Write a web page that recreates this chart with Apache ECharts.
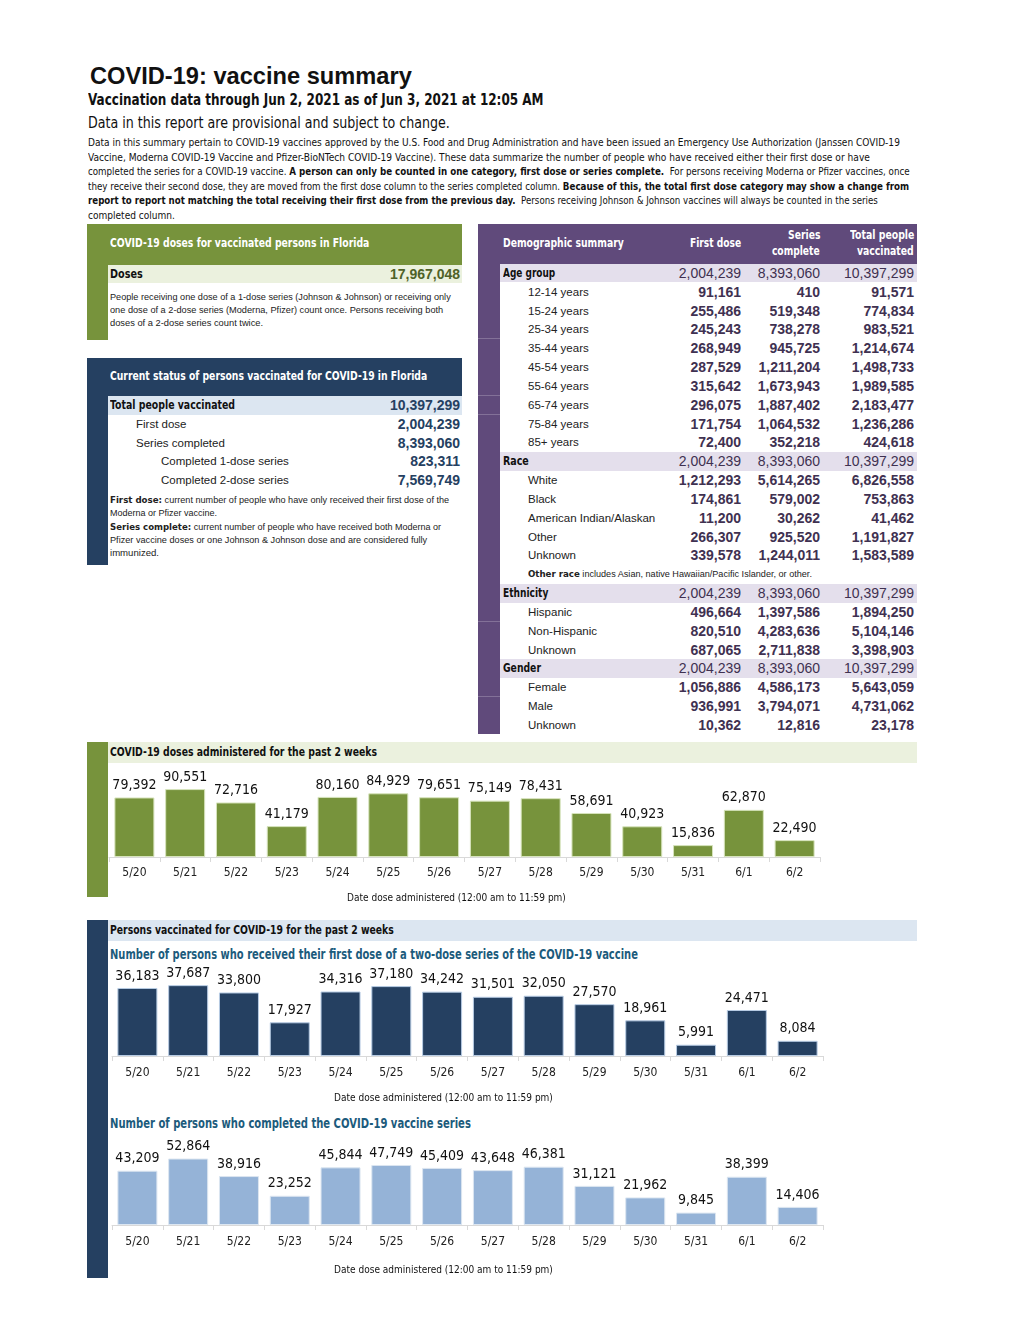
<!DOCTYPE html>
<html><head><meta charset="utf-8">
<script src="https://cdn.jsdelivr.net/npm/echarts@6/dist/echarts.min.js"></script>
<style>
html,body{margin:0;padding:0;background:#fff;}
body{width:1020px;height:1320px;position:relative;overflow:hidden;font-family:"Liberation Sans",Arial,sans-serif;color:#111;}
.a{position:absolute;white-space:nowrap;}
.n{font-family:"Liberation Sans Narrow","Arial Narrow","DejaVu Sans Condensed",sans-serif;}
.n b,.bn{font-family:"Liberation Sans Narrow","Arial Narrow","DejaVu Sans Condensed",sans-serif;font-weight:bold;}
.box{position:absolute;}
#chart{position:absolute;left:0;top:0;width:1020px;height:1320px;z-index:5;pointer-events:none;}
</style></head>
<body>
<div id="page"></div>
<div id="chart"></div>
<script>
// ---------- DATA ----------
const dates = ['5/20','5/21','5/22','5/23','5/24','5/25','5/26','5/27','5/28','5/29','5/30','5/31','6/1','6/2'];
const dosesAdministered = [79392, 90551, 72716, 41179, 80160, 84929, 79651, 75149, 78431, 58691, 40923, 15836, 62870, 22490];
const firstDoseDaily = [36183, 37687, 33800, 17927, 34316, 37180, 34242, 31501, 32050, 27570, 18961, 5991, 24471, 8084];
const seriesCompleteDaily = [43209, 52864, 38916, 23252, 45844, 47749, 45409, 43648, 46381, 31121, 21962, 9845, 38399, 14406];

const totalDoses = 17967048;
const statusLabels = ['Total people vaccinated','First dose','Series completed','Completed 1-dose series','Completed 2-dose series'];
const statusValues = [10397299, 2004239, 8393060, 823311, 7569749];

const groupTotals = [2004239, 8393060, 10397299];
const ageLabels = ['12-14 years','15-24 years','25-34 years','35-44 years','45-54 years','55-64 years','65-74 years','75-84 years','85+ years'];
const ageFirst = [91161, 255486, 245243, 268949, 287529, 315642, 296075, 171754, 72400];
const ageSeries = [410, 519348, 738278, 945725, 1211204, 1673943, 1887402, 1064532, 352218];
const ageTotal = [91571, 774834, 983521, 1214674, 1498733, 1989585, 2183477, 1236286, 424618];
const raceLabels = ['White','Black','American Indian/Alaskan','Other','Unknown'];
const raceFirst = [1212293, 174861, 11200, 266307, 339578];
const raceSeries = [5614265, 579002, 30262, 925520, 1244011];
const raceTotal = [6826558, 753863, 41462, 1191827, 1583589];
const ethLabels = ['Hispanic','Non-Hispanic','Unknown'];
const ethFirst = [496664, 820510, 687065];
const ethSeries = [1397586, 4283636, 2711838];
const ethTotal = [1894250, 5104146, 3398903];
const genderLabels = ['Female','Male','Unknown'];
const genderFirst = [1056886, 936991, 10362];
const genderSeries = [4586173, 3794071, 12816];
const genderTotal = [5643059, 4731062, 23178];

// ---------- PAGE ----------
const page = document.getElementById('page');
const fmt = v => v.toLocaleString('en-US');
function box(x,y,w,h,bg){const d=document.createElement('div');d.className='box';d.style.cssText=`left:${x}px;top:${y}px;width:${w}px;height:${h}px;background:${bg};`;page.appendChild(d);return d;}
function txt(x,cy,html,css,cls,right,w){const h=30;const d=document.createElement('div');d.className='a '+(cls||'');
  d.style.cssText=(right?`right:${1020-x}px;text-align:right;`:`left:${x}px;`)+`top:${cy-h/2}px;height:${h}px;line-height:${h}px;`+(css||'');
  d.innerHTML=html;page.appendChild(d);
  if(w){const cw=d.offsetWidth;if(cw>0){d.style.transformOrigin=right?'right center':'left center';d.style.transform=`scaleX(${w/cw})`;}}
  return d;}

// Header
txt(90,76,'COVID-19: vaccine summary','font-size:24px;font-weight:bold;','',false,322);
txt(88,100,'Vaccination data through Jun 2, 2021 as of Jun 3, 2021 at 12:05 AM','font-size:15px;font-weight:bold;','n',false,456);
txt(88,123,'Data in this report are provisional and subject to change.','font-size:15px;','n',false,362);
const paraLines=[
 ['Data in this summary pertain to COVID-19 vaccines approved by the U.S. Food and Drug Administration and have been issued an Emergency Use Authorization (Janssen COVID-19',812],
 ['Vaccine, Moderna COVID-19 Vaccine and Pfizer-BioNTech COVID-19 Vaccine). These data summarize the number of people who have received either their first dose or have',782],
 ['completed the series for a COVID-19 vaccine. <b>A person can only be counted in one category, first dose or series complete.</b>&nbsp; For persons receiving Moderna or Pfizer vaccines, once',822],
 ['they receive their second dose, they are moved from the first dose column to the series completed column. <b>Because of this, the total first dose category may show a change from</b>',821],
 ['<b>report to report not matching the total receiving their first dose from the previous day.</b>&nbsp; Persons receiving Johnson &amp; Johnson vaccines will always be counted in the series',790],
 ['completed column.',87]];
paraLines.forEach((l,i)=>txt(88,142+14.5*i,l[0],'font-size:10.5px;color:#111;','n',false,l[1]));

// Left panel 1 (green)
const G='#77933c', GL='#ebf1de', NV='#254061', NVL='#dce6f1', PU='#604a7b', PUL='#e4dfec';
box(87,224,375,41,G); box(87,265,21,75,G); box(108,265,354,18,GL);
txt(110,243,'COVID-19 doses for vaccinated persons in Florida','font-size:12px;font-weight:bold;color:#fff;','n',false,259);
txt(110,274,'Doses','font-size:13px;font-weight:bold;','n',false,33);
txt(460,274,fmt(totalDoses),'font-size:14px;font-weight:bold;color:#4f6228;','',true);
txt(110,297,'People receiving one dose of a 1-dose series (Johnson &amp; Johnson) or receiving only','font-size:9px;color:#222;','',false,341);
txt(110,310,'one dose of a 2-dose series (Moderna, Pfizer) count once. Persons receiving both','font-size:9px;color:#222;','',false,333);
txt(110,323,'doses of a 2-dose series count twice.','font-size:9px;color:#222;','',false,153);

// Left panel 2 (navy)
box(87,358,375,38,NV); box(87,396,21,169,NV); box(108,396,354,18.5,NVL);
txt(110,376,'Current status of persons vaccinated for COVID-19 in Florida','font-size:12px;font-weight:bold;color:#fff;','n',false,317);
const stY=[405,424,443,461,480], stX=[110,136,136,161,161];
statusLabels.forEach((l,i)=>{
  if(i===0) txt(stX[i],stY[i],l,'font-size:13px;font-weight:bold;','n',false,125);
  else txt(stX[i],stY[i],l,'font-size:11.5px;color:#222;');
  txt(460,stY[i],fmt(statusValues[i]),'font-size:14px;font-weight:bold;color:'+NV+';','',true);
});
const nb = s => `<b class="bn" style="font-size:9.5px">${s}</b>`;
txt(110,500,nb('First dose:')+' current number of people who have only received their first dose of the','font-size:9px;color:#222;','',false,339);
txt(110,513,'Moderna or Pfizer vaccine.','font-size:9px;color:#222;','',false,107);
txt(110,527,nb('Series complete:')+' current number of people who have received both Moderna or','font-size:9px;color:#222;','',false,331);
txt(110,540,'Pfizer vaccine doses or one Johnson &amp; Johnson dose and are considered fully','font-size:9px;color:#222;','',false,317);
txt(110,553,'immunized.','font-size:9px;color:#222;','',false,49);

// Right table (purple)
box(478,224,439,40,PU); box(478,264,22,470,PU);
[338,395,414,621,696].forEach(y=>box(478,y,22,1,'rgba(255,255,255,0.22)'));
const hs='font-size:12.5px;font-weight:bold;color:#fff;';
txt(503,243,'Demographic summary',hs,'n',false,121);
txt(741,243,'First dose',hs,'n',true,51);
txt(820,235,'Series',hs,'n',true,32); txt(820,251,'complete',hs,'n',true,48);
txt(914,235,'Total people',hs,'n',true,64); txt(914,251,'vaccinated',hs,'n',true,57);
const cols=[741,820,914];
const rowH=18.83; let rowIdx=0;
function rowY(){return 273+rowH*(rowIdx++);}
function groupRow(name,w){const y=rowY();box(500,y-rowH/2,417,rowH,PUL);
  txt(503,y,name,'font-size:13px;font-weight:bold;','n',false,w);
  groupTotals.forEach((v,j)=>txt(cols[j],y,fmt(v),'font-size:14px;color:#3f3151;','',true));}
function subRows(labels,a,b,c){labels.forEach((l,i)=>{const y=rowY();
  txt(528,y,l,'font-size:11.5px;color:#222;');
  [a[i],b[i],c[i]].forEach((v,j)=>txt(cols[j],y,fmt(v),'font-size:14px;font-weight:bold;color:#3f3151;','',true));});}
groupRow('Age group',52); subRows(ageLabels,ageFirst,ageSeries,ageTotal);
groupRow('Race',26); subRows(raceLabels,raceFirst,raceSeries,raceTotal);
{const y=rowY();txt(528,y,nb('Other race')+' includes Asian, native Hawaiian/Pacific Islander, or other.','font-size:9px;color:#222;','',false,284);}
groupRow('Ethnicity',45); subRows(ethLabels,ethFirst,ethSeries,ethTotal);
groupRow('Gender',38); subRows(genderLabels,genderFirst,genderSeries,genderTotal);

// Chart section headers
box(87,742,21,155,G); box(108,742,809,21,GL);
txt(110,752,'COVID-19 doses administered for the past 2 weeks','font-size:12px;font-weight:bold;','n',false,267);
box(87,920,21,358,NV); box(108,920,809,21,NVL);
txt(110,930,'Persons vaccinated for COVID-19 for the past 2 weeks','font-size:12px;font-weight:bold;','n',false,284);
txt(110,954,'Number of persons who received their first dose of a two-dose series of the COVID-19 vaccine','font-size:13.5px;font-weight:bold;color:#1c5b7c;','n',false,528);
txt(110,1123,'Number of persons who completed the COVID-19 vaccine series','font-size:13.5px;font-weight:bold;color:#1c5b7c;','n',false,361);

// ---------- CHARTS ----------
const NF='"Liberation Sans Narrow","Arial Narrow","DejaVu Sans Condensed",sans-serif';
const grids=[
  {left:109,top:767,width:711,height:90},
  {left:112,top:962,width:711,height:94},
  {left:112,top:1137,width:711,height:88}
];
const ymax=[120000,50000,70000];
const nameGap=[36,37,40];
const labelMargin=[10,11,11];
const namePad=[[0,16,0,0],[0,48,0,0],[0,48,0,0]];
const seriesData=[dosesAdministered, firstDoseDaily, seriesCompleteDaily];
const barColors=['#77933c','#254061','#95b3d7'];
const borderColors=['#d7e4bd','#b8cce4','#dce6f1'];
const chart=echarts.init(document.getElementById('chart'),null,{renderer:'canvas'});
chart.setOption({
  animation:false,
  grid:grids,
  xAxis:grids.map((g,i)=>({type:'category',gridIndex:i,data:dates,
    axisLine:{lineStyle:{color:'#d9d9d9',width:1}},
    axisTick:{show:true,length:5,lineStyle:{color:'#d9d9d9'}},
    axisLabel:{fontFamily:NF,fontSize:12,color:'#222',margin:labelMargin[i]},
    name:'Date dose administered (12:00 am to 11:59 pm)',nameLocation:'middle',nameGap:nameGap[i],
    nameTextStyle:{fontFamily:NF,fontSize:10,color:'#111',padding:namePad[i]}})),
  yAxis:grids.map((g,i)=>({type:'value',gridIndex:i,min:0,max:ymax[i],show:false,splitLine:{show:false}})),
  series:seriesData.map((d,i)=>({type:'bar',xAxisIndex:i,yAxisIndex:i,data:d,barWidth:40,
    itemStyle:{color:barColors[i],borderColor:borderColors[i],borderWidth:1},
    label:{show:true,position:'top',distance:5,fontFamily:NF,fontSize:14,color:'#111',
      formatter:p=>fmt(p.value)}}))
});
</script>
</body></html>
